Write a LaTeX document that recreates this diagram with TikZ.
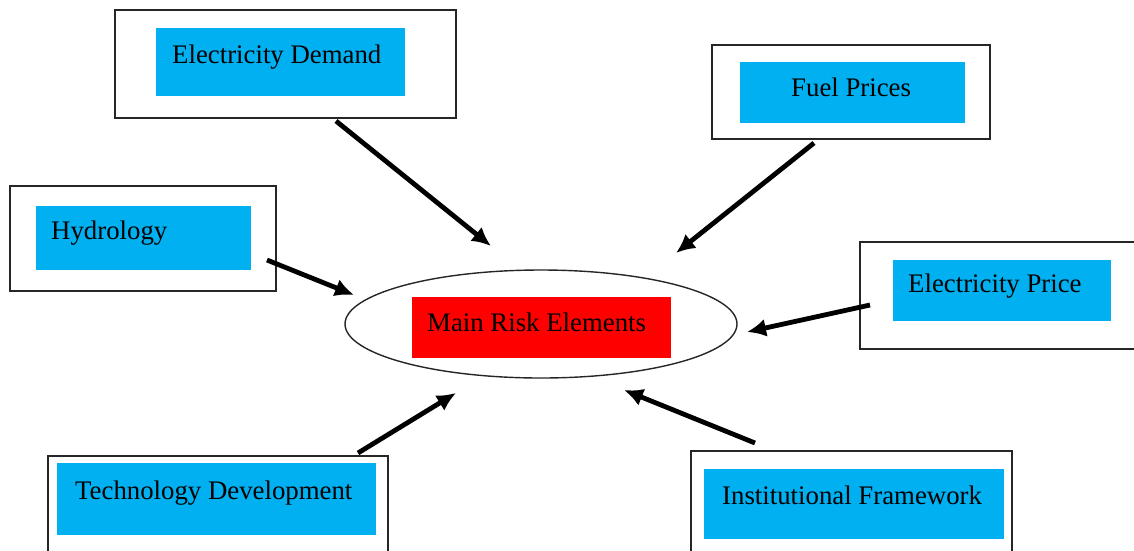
\documentclass[tikz,border=0pt]{standalone}
\usepackage{fontspec}
\setmainfont{Liberation Serif}
\usetikzlibrary{arrows.meta,shapes.geometric}
\definecolor{boxblue}{HTML}{00B0F0}
\definecolor{boxred}{HTML}{FF0000}
\tikzset{
  frame/.style={draw=black!85, line width=1.4pt, fill=white},
  panel/.style={fill=boxblue, draw=none},
  label/.style={anchor=base west, inner sep=0pt, font=\fontsize{26.8}{30}\selectfont},
  feed/.style={line width=4.8pt, -{Latex[length=19pt,width=18pt]}}
}
\begin{document}
\begin{tikzpicture}[x=1pt,y=-1pt]
\useasboundingbox (0,0) rectangle (1134,550);
\clip (0,0) rectangle (1134,550);
\fill[white] (0,0) rectangle (1134,550);

% outer frames
\draw[frame] (115,10) rectangle (456,118);
\draw[frame] (712,45) rectangle (990,139);
\draw[frame] (10,186) rectangle (276,291);
\draw[frame] (860,242) rectangle (1150,349);
\draw[frame] (48,456) rectangle (388,570);
\draw[frame] (691,451) rectangle (1012,570);

% blue panels
\fill[panel] (156,28) rectangle (405,96);
\fill[panel] (740,62) rectangle (965,123);
\fill[panel] (36,206) rectangle (251,270);
\fill[panel] (893,260) rectangle (1111,321);
\fill[panel] (57,463) rectangle (376,535);
\fill[panel] (704,469) rectangle (1004,539);

% centre ellipse with red panel
\node[ellipse, draw=black!85, line width=1.4pt, minimum width=392pt, minimum height=108pt, inner sep=0pt] (core) at (541,324) {};
\fill[boxred] (412,297) rectangle (671,358);

% texts
\node[label] (demand) at (172,63) {Electricity Demand};
\node[label] (fuel) at (791,96) {Fuel Prices};
\node[label] (hydro) at (51,239) {Hydrology};
\node[label] (eprice) at (908,292) {Electricity Price};
\node[label] (main) at (427,331) {Main Risk Elements};
\node[label] (tech) at (75,499) {Technology Development};
\node[label] (inst) at (722,504) {Institutional Framework};

% arrow end points
\coordinate (dA) at (336,121);  \coordinate (dB) at (491,246);
\coordinate (fA) at (814,143);  \coordinate (fB) at (676,253);
\coordinate (hA) at (267,260);  \coordinate (hB) at (354,295);
\coordinate (pA) at (870,305);  \coordinate (pB) at (747,332);
\coordinate (tA) at (358,453);  \coordinate (tB) at (456,393);
\coordinate (iA) at (755,443);  \coordinate (iB) at (624,390);

\draw[feed] (dA) -- (dB);
\draw[feed] (fA) -- (fB);
\draw[feed] (hA) -- (hB);
\draw[feed] (pA) -- (pB);
\draw[feed] (tA) -- (tB);
\draw[feed] (iA) -- (iB);
\end{tikzpicture}
\end{document}
